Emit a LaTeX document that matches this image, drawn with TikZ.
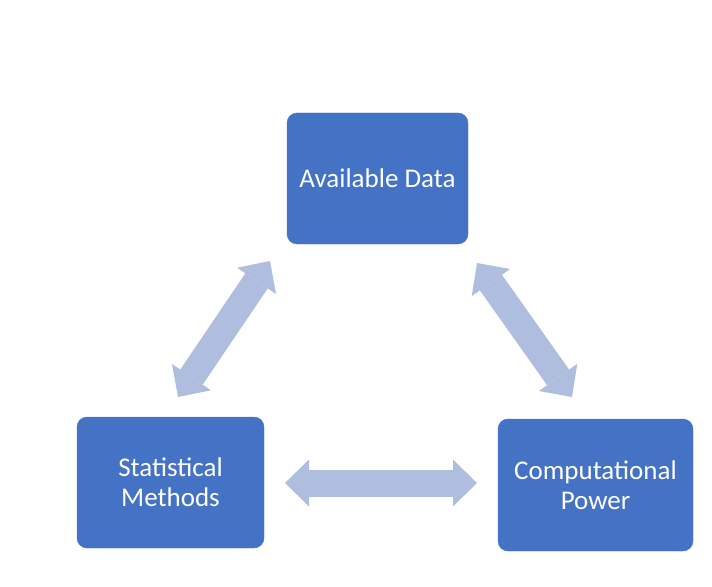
\documentclass[tikz,border=0pt]{standalone}
\usepackage{fontspec}
\setmainfont{Carlito}
\usetikzlibrary{arrows.meta}

\definecolor{boxblue}{RGB}{68,114,196}
\definecolor{linkblue}{RGB}{175,189,222}

\tikzset{
  box/.style={draw=boxblue, fill=boxblue, rounded corners=10bp, text=white,
    align=center, inner sep=0pt, font=\fontsize{27bp}{30bp}\selectfont},
  link/.style={draw=linkblue, line width=27bp,
    {Triangle[length=24bp, width=47bp, line width=0pt]}-{Triangle[length=24bp, width=47bp, line width=0pt]}}
}

\begin{document}
\begin{tikzpicture}[x=1bp, y=-1bp]
\useasboundingbox (0, 0) rectangle (712, 587);

\node[box, minimum width=181bp, minimum height=131bp] (data) at (377.5, 178.5) {Available Data};
\node[box, minimum width=187bp, minimum height=131bp] (stats) at (170.5, 482.5) {Statistical\\Methods};
\node[box, minimum width=195bp, minimum height=132bp] (power) at (595.5, 485) {Computational\\Power};

% arrow ends, kept clear of the boxes
\coordinate (dataL) at (270, 261);
\coordinate (statsT) at (178, 397);
\coordinate (dataR) at (477, 263);
\coordinate (powerT) at (572, 397);
\coordinate (statsR) at (285, 483);
\coordinate (powerL) at (477, 483);

\draw[link] (dataL) -- (statsT);
\draw[link] (dataR) -- (powerT);
\draw[link] (statsR) -- (powerL);

\end{tikzpicture}
\end{document}
